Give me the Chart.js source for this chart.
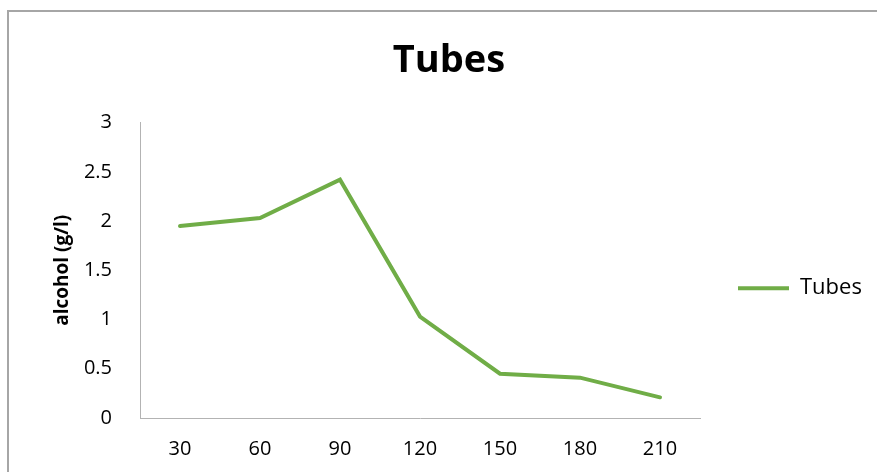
<!DOCTYPE html>
<html>
<head>
<meta charset="utf-8">
<script src="https://cdn.jsdelivr.net/npm/chart.js@4.4.1/dist/chart.umd.min.js"></script>
<style>
  html, body { margin: 0; padding: 0; background: #fff; }
  #wrap { width: 877px; height: 472px; }
</style>
</head>
<body>
<div id="wrap"><canvas id="chart" width="877" height="472"></canvas></div>
<script>
// data
var categories = ['30', '60', '90', '120', '150', '180', '210'];
var tubes = [1.95, 2.03, 2.42, 1.03, 0.45, 0.41, 0.21];
var yTicks = [0, 0.5, 1, 1.5, 2, 2.5, 3];

var green = '#70AD47';
var axisGrey = '#b3b3b3';
var fontFamily = '"Open Sans", "Noto Sans", sans-serif';

// frame round the whole chart (only the top and left edges are in view)
var framePlugin = {
    id: 'frame',
    afterDraw: function(chart) {
        var ctx = chart.ctx;
        ctx.save();
        ctx.strokeStyle = '#a6a6a6';
        ctx.lineWidth = 2;
        ctx.beginPath();
        ctx.moveTo(8, chart.height);
        ctx.lineTo(8, 11);
        ctx.lineTo(chart.width, 11);
        ctx.stroke();
        ctx.restore();
    }
};

var ctx = document.getElementById('chart').getContext('2d');

new Chart(ctx, {
    type: 'line',
    data: {
        labels: categories,
        datasets: [{
            label: 'Tubes',
            data: tubes,
            borderColor: green,
            backgroundColor: green,
            borderWidth: 4,
            borderCapStyle: 'round',
            pointRadius: 0,
            pointHoverRadius: 0,
            tension: 0,
            fill: false
        }]
    },
    options: {
        responsive: false,
        animation: false,
        layout: { padding: { left: 27, right: 6, top: 0, bottom: 0 } },
        plugins: {
            title: {
                display: true,
                text: 'Tubes',
                color: '#000',
                font: { family: fontFamily, size: 38, weight: 'bold' },
                padding: { top: 38, bottom: 39 }
            },
            legend: {
                display: true,
                position: 'right',
                maxWidth: 171,
                // empty legend title only used to push the entry down to mid plot height
                title: {
                    display: true,
                    text: '',
                    font: { size: 12 },
                    padding: { top: 90, bottom: 0 }
                },
                labels: {
                    usePointStyle: true,
                    pointStyle: 'line',
                    pointStyleWidth: 51,
                    boxWidth: 51,
                    padding: 38,
                    color: '#000',
                    font: { family: fontFamily, size: 22 }
                }
            },
            tooltip: { enabled: false }
        },
        scales: {
            x: {
                offset: true,
                grid: { display: false, drawTicks: false },
                border: { display: true, color: axisGrey, width: 1 },
                ticks: {
                    color: '#000',
                    padding: 19,
                    font: { family: fontFamily, size: 20 },
                    maxRotation: 0
                },
                afterFit: function(scale) { scale.height = 54; }
            },
            y: {
                min: 0,
                max: 3,
                grid: { display: false, drawTicks: false },
                border: { display: true, color: axisGrey, width: 1 },
                afterBuildTicks: function(scale) {
                    scale.ticks = yTicks.map(function(v) { return { value: v }; });
                },
                ticks: {
                    color: '#000',
                    padding: 28,
                    font: { family: fontFamily, size: 20 },
                    callback: function(v) { return String(v); }
                },
                title: {
                    display: true,
                    text: 'alcohol (g/l)',
                    color: '#000',
                    font: { family: fontFamily, size: 19, weight: 'bold' },
                    padding: { top: 24, bottom: 0 }
                },
                afterFit: function(scale) { scale.width = 113; }
            }
        }
    },
    plugins: [framePlugin]
});
</script>
</body>
</html>
